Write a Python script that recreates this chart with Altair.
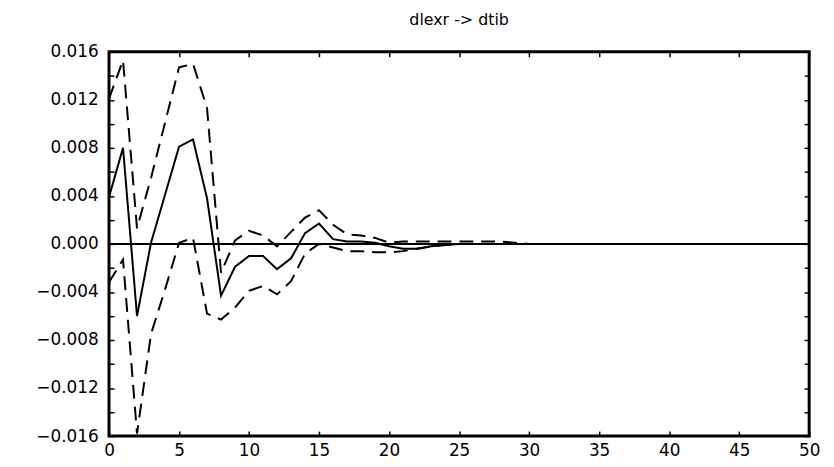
import altair as alt
import pandas as pd

lags = list(range(51))

response = [0.0039, 0.0080, -0.0060, 0.0001, 0.0041, 0.0081, 0.0087, 0.0038, -0.0043, -0.0019,
            -0.0010, -0.0010, -0.0021, -0.0012, 0.0009, 0.0017, 0.0004, 0.0002, 0.0002, 0.0001,
            -0.0002, -0.0004, -0.0004, -0.0002, -0.0001] + [0.0] * 26

upper = [0.0121, 0.0153, 0.0013, 0.0055, 0.0101, 0.0147, 0.0150, 0.0113, -0.0024, 0.0003,
         0.0011, 0.0007, -0.0002, 0.0010, 0.0022, 0.0028, 0.0016, 0.0008, 0.0007, 0.0005,
         0.0001, 0.0002, 0.0002, 0.0002, 0.0002, 0.0002, 0.0002, 0.0002, 0.0002, 0.0001] + [0.0] * 21

lower = [-0.0032, -0.0013, -0.0158, -0.0075, -0.0038, 0.0001, 0.0005, -0.0058, -0.0063, -0.0053,
         -0.0039, -0.0035, -0.0042, -0.0031, -0.0008, 0.0000, -0.0003, -0.0006, -0.0006, -0.0007,
         -0.0007, -0.0006, -0.0004, -0.0002, -0.0001] + [0.0] * 26

x_ticks = list(range(0, 51, 5))
y_ticks = [round(-0.016 + 0.002 * i, 3) for i in range(17)]
title_text = "dlexr -> dtib"

df = pd.DataFrame({"lag": lags, "response": response, "upper": upper, "lower": lower})

xs = alt.Scale(domain=[0, 50], nice=False, zero=False)
ys = alt.Scale(domain=[-0.016, 0.016], nice=False, zero=False)

FONT = "DejaVu Sans"

ax_bottom = alt.Axis(orient="bottom", values=x_ticks, offset=-5, tickSize=5, tickWidth=1.5,
                     tickColor="black", labelColor="black",
                     labelPadding=7, labelFontSize=17, labelFont=FONT, title=None,
                     domain=False, grid=False, labelFlush=False)
ax_left = alt.Axis(orient="left", values=y_ticks, offset=-5, tickSize=5, tickWidth=1.5,
                   tickColor="black", labelColor="black",
                   labelPadding=11, labelFontSize=17, labelFont=FONT, title=None,
                   domain=False, grid=False, labelFlush=False,
                   labelExpr="abs(round(datum.value*1000)) % 4 == 0 ? format(datum.value, '.3f') : ''")
ax_top = alt.Axis(orient="top", values=x_ticks, offset=-5, tickSize=5, tickWidth=1.5,
                  tickColor="black", labels=False, title=None, domain=False, grid=False)
ax_right = alt.Axis(orient="right", values=y_ticks, offset=-5, tickSize=5, tickWidth=1.5,
                    tickColor="black", labels=False, title=None, domain=False, grid=False)

base = alt.Chart(df)

zero = base.mark_rule(color="black", strokeWidth=2).encode(y=alt.datum(0, scale=ys, axis=None))

solid = base.mark_line(color="black", strokeWidth=2).encode(
    x=alt.X("lag:Q", scale=xs, axis=ax_bottom),
    y=alt.Y("response:Q", scale=ys, axis=ax_left),
)

up = base.mark_line(color="black", strokeWidth=2, strokeDash=[14, 8]).encode(
    x=alt.X("lag:Q", scale=xs, axis=ax_top),
    y=alt.Y("upper:Q", scale=ys, axis=ax_right),
)

lo = base.mark_line(color="black", strokeWidth=2, strokeDash=[14, 8]).encode(
    x=alt.X("lag:Q", scale=xs, axis=None),
    y=alt.Y("lower:Q", scale=ys, axis=None),
)

chart = alt.layer(solid, up, lo, zero).resolve_axis(x="independent", y="independent").properties(
    width=707,
    height=388,
    background="white",
    autosize=alt.AutoSizeParams(type="none"),
    padding={"left": 102, "top": 42, "right": 17, "bottom": 28},
    title=alt.TitleParams(text=title_text, font=FONT, fontSize=16, fontWeight="normal",
                          anchor="middle", color="black", offset=15),
).configure_view(stroke="black", strokeWidth=3)

chart.save("out.html", embed_options={"renderer": "svg", "actions": False})
